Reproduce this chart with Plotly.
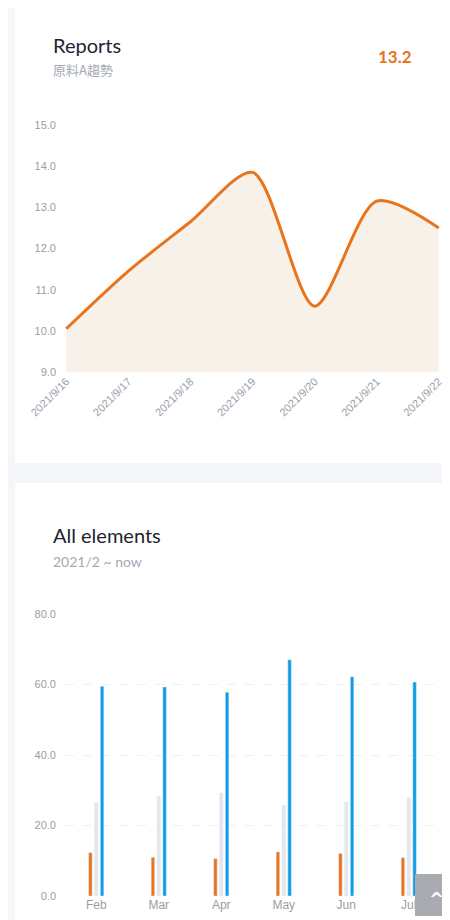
import plotly.graph_objects as go

# top chart data
dates = ["2021/9/16", "2021/9/17", "2021/9/18", "2021/9/19", "2021/9/20", "2021/9/21", "2021/9/22"]
trend = [10.05, 11.45, 12.65, 13.85, 10.6, 13.15, 12.5]

# bottom chart data
months = ["Feb", "Mar", "Apr", "May", "Jun", "Jul"]
orange_vals = [12.3, 11.0, 10.6, 12.5, 12.1, 10.9]
gray_vals = [26.5, 28.3, 29.2, 25.8, 26.7, 27.9]
blue_vals = [59.5, 59.3, 57.8, 67.0, 62.2, 60.7]

W, H = 450, 920
ORANGE = "#e8741e"
TICK = dict(family="Liberation Sans, Arial", size=11, color="#9a9da8")


def py(px):
    return 1 - px / H


fig = go.Figure()

fig.add_trace(go.Scatter(
    x=dates, y=trend, mode="lines", line=dict(color=ORANGE, width=3, shape="spline", smoothing=0.8),
    fill="tozeroy", fillcolor="#f7f1ea", xaxis="x", yaxis="y", hoverinfo="x+y",
))

for vals, col in [(orange_vals, ORANGE), (gray_vals, "#e4e6eb"), (blue_vals, "#109be6")]:
    fig.add_trace(go.Bar(x=months, y=vals, marker_color=col, xaxis="x2", yaxis="y2"))

# white cards on the grey page
shapes = []
for y0, y1 in [(-20, 455), (475, 940)]:
    shapes.append(dict(type="rect", xref="paper", yref="paper", x0=7 / W, x1=442 / W, y0=py(y1), y1=py(y0),
                       fillcolor="white", line_width=0, layer="below"))
# scroll-to-top button
shapes.append(dict(type="rect", xref="paper", yref="paper", x0=407 / W, x1=449 / W, y0=py(908), y1=py(866),
                   fillcolor="#a9abb1", line_width=0, layer="above"))

ann = [
    dict(text="Reports", x=43 / W, y=py(37), font=dict(family="Lato, Inter", size=20, color="#1f2330")),
    dict(text="原料A趨勢", x=43 / W, y=py(61), font=dict(family="Noto Sans CJK TC", size=13, color="#a5a9b5")),
    dict(text="<b>13.2</b>", x=368 / W, y=py(49), font=dict(family="Lato", size=17, color=ORANGE)),
    dict(text="All elements", x=43 / W, y=py(527), font=dict(family="Lato, Inter", size=20, color="#1f2330")),
    dict(text="2021/2 ~ now", x=43 / W, y=py(553), font=dict(family="Lato", size=14, color="#a5a9b5")),
    dict(text="<b>^</b>", x=428 / W, y=py(890), xanchor="center",
         font=dict(family="DejaVu Sans", size=18, color="white")),
]
for a in ann:
    a.setdefault("xanchor", "left")
    a.update(xref="paper", yref="paper", yanchor="middle", showarrow=False)

fig.update_layout(
    width=W, height=H, margin=dict(l=0, r=0, t=0, b=0, autoexpand=False),
    paper_bgcolor="#f5f6fa", plot_bgcolor="rgba(0,0,0,0)", showlegend=False,
    shapes=shapes, annotations=ann,
    barmode="group", bargap=0.72, bargroupgap=0.4,
    xaxis=dict(domain=[57 / W, 432 / W], anchor="y", range=[-0.02, 6.02], type="category", showgrid=False,
               tickangle=-45, tickfont=dict(TICK, size=11), ticks="", showline=False, zeroline=False,
               automargin=False),
    yaxis=dict(domain=[py(364), py(117)], anchor="x", range=[9, 15], dtick=1, tickformat=".1f",
               showgrid=False, zeroline=False, tickfont=TICK, ticklabelstandoff=8, automargin=False),
    xaxis2=dict(domain=[57 / W, 432 / W], anchor="y2", showgrid=False, tickfont=dict(TICK, size=12),
                automargin=False),
    yaxis2=dict(domain=[py(888), py(606)], anchor="x2", range=[0, 80], dtick=20, tickformat=".1f",
                showgrid=True, gridcolor="#eef0f4", griddash="dash", zeroline=False, tickfont=TICK,
                ticklabelstandoff=8, automargin=False),
)

fig.write_html("out.html")
